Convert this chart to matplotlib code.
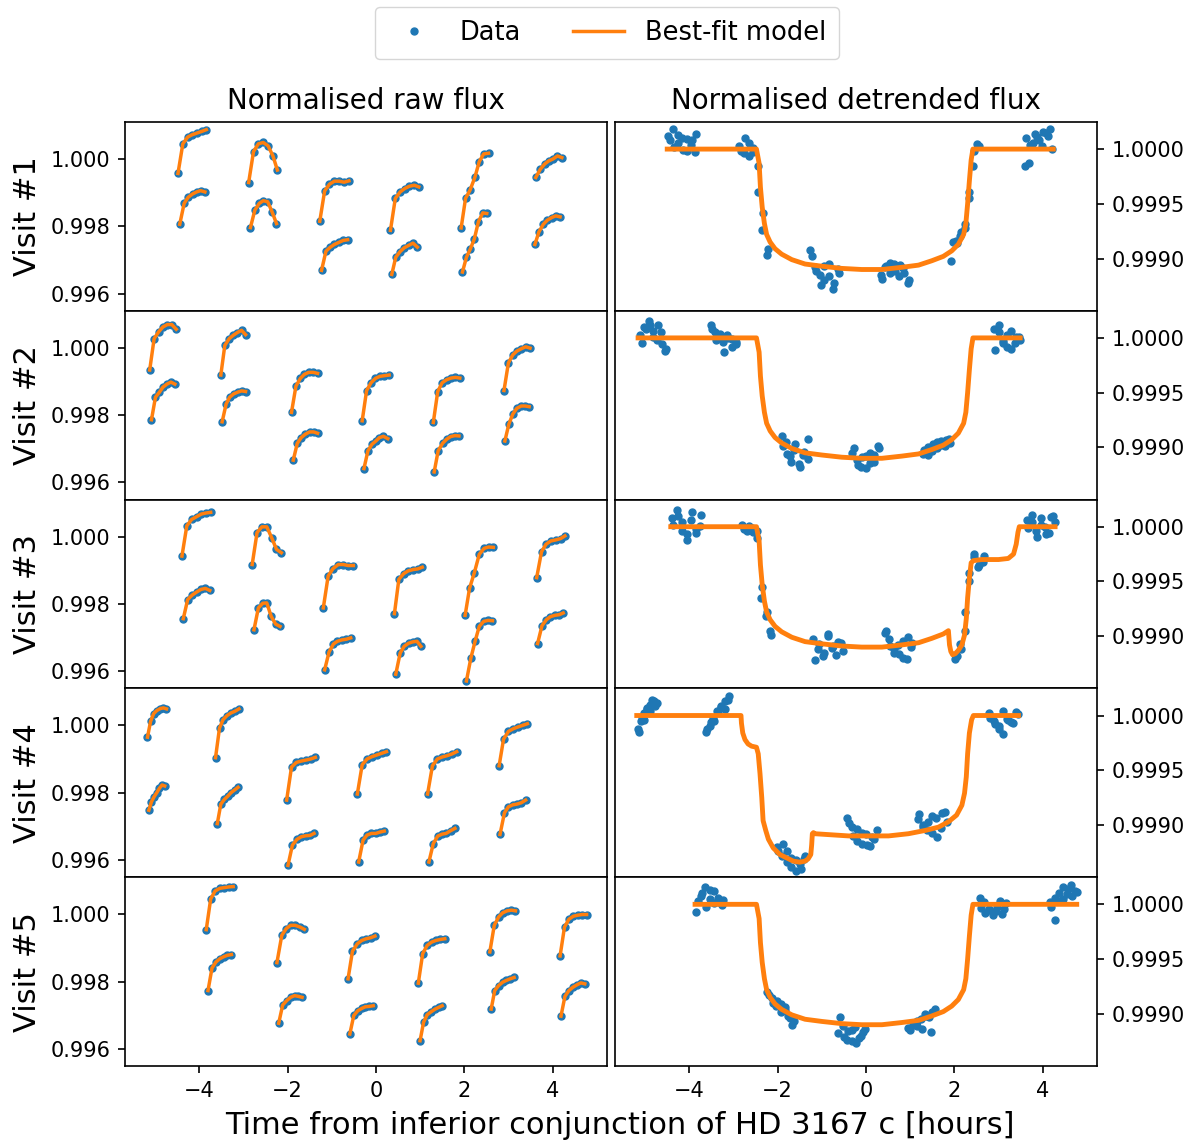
import matplotlib
matplotlib.use("Agg")
import numpy as np
import matplotlib.pyplot as plt
from matplotlib.lines import Line2D
from matplotlib.ticker import FormatStrFormatter

# ---------------- data ----------------
# times in hours from inferior conjunction; each visit has 6 HST orbits,
# each orbit has an upper (forward scan) and lower (reverse scan) branch

# Visit 1
v1_t_up = [[-4.48, -4.37, -4.26, -4.16, -4.05, -3.94, -3.84],
           [-2.88, -2.77, -2.66, -2.55, -2.44, -2.33, -2.23],
           [-1.27, -1.16, -1.05, -0.94, -0.83, -0.72, -0.61],
           [0.33, 0.44, 0.55, 0.65, 0.76, 0.87, 0.97],
           [1.93, 2.03, 2.13, 2.24, 2.34, 2.44, 2.55],
           [3.62, 3.72, 3.82, 3.91, 4.01, 4.11, 4.21]]
v1_t_lo = [[-4.44, -4.34, -4.25, -4.15, -4.06, -3.97, -3.87],
           [-2.84, -2.74, -2.64, -2.55, -2.45, -2.35, -2.25],
           [-1.23, -1.13, -1.03, -0.94, -0.84, -0.74, -0.64],
           [0.36, 0.45, 0.55, 0.64, 0.74, 0.84, 0.94],
           [1.96, 2.05, 2.14, 2.23, 2.32, 2.42, 2.51],
           [3.60, 3.69, 3.79, 3.88, 3.98, 4.07, 4.17]]
v1_raw_up = [[0.99957, 1.00045, 1.00065, 1.00072, 1.00077, 1.00082, 1.00087],
             [0.99930, 1.00022, 1.00045, 1.00049, 1.00039, 1.00009, 0.99967],
             [0.99815, 0.99905, 0.99925, 0.99934, 0.99934, 0.99931, 0.99935],
             [0.99788, 0.99883, 0.99902, 0.99912, 0.99919, 0.99922, 0.99917],
             [0.99795, 0.99883, 0.99907, 0.99945, 0.99992, 1.00015, 1.00017],
             [0.99945, 0.99969, 0.99985, 0.99994, 1.00000, 1.00009, 1.00004]]
v1_raw_lo = [[0.99806, 0.99868, 0.99886, 0.99896, 0.99902, 0.99906, 0.99902],
             [0.99796, 0.99848, 0.99868, 0.99876, 0.99873, 0.99843, 0.99808],
             [0.99669, 0.99726, 0.99738, 0.99746, 0.99752, 0.99758, 0.99760],
             [0.99657, 0.99708, 0.99725, 0.99736, 0.99743, 0.99750, 0.99738],
             [0.99664, 0.99708, 0.99733, 0.99763, 0.99813, 0.99840, 0.99838],
             [0.99746, 0.99783, 0.99806, 0.99818, 0.99826, 0.99831, 0.99828]]
v1_det_up = [[1.00012, 1.00018, 1.00006, 1.00010, 0.99998, 1.00008, 1.00014],
             [1.00003, 0.99996, 1.00006, 1.00001, 0.99985, 0.99942, 0.99909],
             [0.99908, 0.99892, 0.99885, 0.99880, 0.99895, 0.99878, 0.99887],
             [0.99885, 0.99892, 0.99896, 0.99889, 0.99894, 0.99887, 0.99880],
             [0.99898, 0.99916, 0.99921, 0.99932, 0.99961, 0.99998, 1.00003],
             [1.00010, 1.00004, 1.00014, 1.00008, 1.00016, 1.00012, 1.00000]]
v1_det_lo = [[1.00008, 1.00002, 1.00013, 0.99999, 1.00009, 1.00004, 0.99997],
             [0.99998, 1.00010, 0.99994, 0.99997, 0.99961, 0.99926, 0.99903],
             [0.99902, 0.99889, 0.99876, 0.99893, 0.99884, 0.99872, 0.99890],
             [0.99881, 0.99893, 0.99887, 0.99895, 0.99884, 0.99891, 0.99878],
             [0.99915, 0.99914, 0.99924, 0.99928, 0.99955, 0.99985, 1.00005],
             [0.99985, 0.99987, 1.00006, 1.00011, 1.00003, 1.00015, 1.00018]]

# Visit 2
v2_t_up = [[-5.12, -5.02, -4.92, -4.82, -4.72, -4.62, -4.52],
           [-3.51, -3.42, -3.32, -3.23, -3.14, -3.04, -2.95],
           [-1.91, -1.81, -1.71, -1.62, -1.52, -1.42, -1.32],
           [-0.31, -0.21, -0.11, -0.01, 0.09, 0.19, 0.30],
           [1.30, 1.40, 1.50, 1.60, 1.70, 1.80, 1.90],
           [2.90, 3.00, 3.10, 3.19, 3.29, 3.39, 3.49]]
v2_t_lo = [[-5.08, -4.99, -4.90, -4.82, -4.73, -4.64, -4.55],
           [-3.48, -3.39, -3.31, -3.22, -3.13, -3.04, -2.95],
           [-1.87, -1.78, -1.69, -1.60, -1.50, -1.41, -1.32],
           [-0.27, -0.18, -0.09, 0.00, 0.08, 0.17, 0.27],
           [1.32, 1.41, 1.51, 1.60, 1.69, 1.79, 1.88],
           [2.92, 3.01, 3.10, 3.19, 3.29, 3.38, 3.47]]
v2_raw_up = [[0.99934, 1.00027, 1.00047, 1.00062, 1.00069, 1.00069, 1.00055],
             [0.99919, 1.00007, 1.00027, 1.00037, 1.00045, 1.00052, 1.00039],
             [0.99808, 0.99886, 0.99909, 0.99921, 0.99927, 0.99927, 0.99924],
             [0.99783, 0.99873, 0.99896, 0.99909, 0.99915, 0.99917, 0.99919],
             [0.99778, 0.99870, 0.99896, 0.99905, 0.99910, 0.99912, 0.99910],
             [0.99873, 0.99955, 0.99979, 0.99990, 0.99997, 1.00003, 0.99999]]
v2_raw_lo = [[0.99786, 0.99853, 0.99868, 0.99883, 0.99892, 0.99898, 0.99892],
             [0.99780, 0.99833, 0.99853, 0.99863, 0.99868, 0.99872, 0.99870],
             [0.99666, 0.99716, 0.99733, 0.99743, 0.99750, 0.99750, 0.99746],
             [0.99641, 0.99694, 0.99713, 0.99723, 0.99733, 0.99737, 0.99730],
             [0.99631, 0.99694, 0.99716, 0.99728, 0.99736, 0.99739, 0.99738],
             [0.99723, 0.99773, 0.99803, 0.99820, 0.99827, 0.99827, 0.99825]]
v2_det_up = [[1.00003, 1.00010, 1.00015, 1.00006, 1.00012, 0.99994, 0.99990],
             [1.00012, 1.00005, 1.00001, 0.99996, 1.00003, 0.99999, 0.99994],
             [0.99910, 0.99905, 0.99892, 0.99898, 0.99885, 0.99893, 0.99908],
             [0.99895, 0.99888, 0.99882, 0.99892, 0.99886, 0.99893, 0.99899],
             [0.99894, 0.99900, 0.99897, 0.99905, 0.99902, 0.99907, 0.99904],
             [1.00008, 1.00012, 0.99995, 1.00003, 0.99990, 1.00001, 0.99998]]
v2_det_lo = [[0.99995, 1.00008, 1.00012, 1.00001, 0.99998, 1.00005, 0.99988],
             [1.00008, 0.99998, 1.00004, 0.99987, 1.00000, 0.99992, 0.99996],
             [0.99901, 0.99894, 0.99887, 0.99903, 0.99882, 0.99896, 0.99889],
             [0.99899, 0.99884, 0.99891, 0.99881, 0.99895, 0.99887, 0.99901],
             [0.99898, 0.99893, 0.99903, 0.99899, 0.99906, 0.99901, 0.99908],
             [0.99989, 1.00005, 0.99997, 0.99992, 1.00006, 0.99995, 1.00001]]

# Visit 3
v3_t_up = [[-4.39, -4.28, -4.17, -4.06, -3.95, -3.85, -3.74],
           [-2.80, -2.69, -2.58, -2.47, -2.36, -2.25, -2.14],
           [-1.19, -1.08, -0.97, -0.85, -0.74, -0.63, -0.51],
           [0.42, 0.52, 0.63, 0.73, 0.84, 0.95, 1.05],
           [2.02, 2.12, 2.23, 2.34, 2.45, 2.55, 2.66],
           [3.64, 3.75, 3.85, 3.96, 4.07, 4.18, 4.28]]
v3_t_lo = [[-4.36, -4.26, -4.16, -4.06, -3.96, -3.86, -3.76],
           [-2.76, -2.66, -2.56, -2.47, -2.37, -2.27, -2.17],
           [-1.16, -1.06, -0.96, -0.87, -0.77, -0.67, -0.57],
           [0.45, 0.55, 0.64, 0.74, 0.83, 0.93, 1.02],
           [2.05, 2.15, 2.25, 2.34, 2.44, 2.54, 2.64],
           [3.66, 3.76, 3.86, 3.95, 4.05, 4.15, 4.24]]
v3_raw_up = [[0.99942, 1.00032, 1.00051, 1.00059, 1.00067, 1.00070, 1.00072],
             [0.99917, 1.00012, 1.00029, 1.00029, 0.99997, 0.99962, 0.99952],
             [0.99788, 0.99883, 0.99905, 0.99917, 0.99917, 0.99914, 0.99914],
             [0.99771, 0.99873, 0.99890, 0.99898, 0.99902, 0.99904, 0.99909],
             [0.99766, 0.99846, 0.99893, 0.99947, 0.99965, 0.99969, 0.99968],
             [0.99878, 0.99955, 0.99977, 0.99987, 0.99990, 0.99994, 1.00002]]
v3_raw_lo = [[0.99756, 0.99813, 0.99826, 0.99835, 0.99843, 0.99846, 0.99840],
             [0.99723, 0.99788, 0.99802, 0.99803, 0.99763, 0.99740, 0.99733],
             [0.99604, 0.99657, 0.99681, 0.99689, 0.99693, 0.99695, 0.99699],
             [0.99591, 0.99654, 0.99674, 0.99683, 0.99687, 0.99689, 0.99674],
             [0.99571, 0.99639, 0.99691, 0.99733, 0.99748, 0.99751, 0.99750],
             [0.99682, 0.99735, 0.99753, 0.99762, 0.99766, 0.99768, 0.99773]]
v3_det_up = [[1.00008, 1.00015, 1.00004, 0.99993, 1.00013, 0.99998, 1.00011],
             [1.00002, 0.99996, 0.99999, 0.99996, 0.99945, 0.99922, 0.99901],
             [0.99897, 0.99888, 0.99882, 0.99900, 0.99891, 0.99895, 0.99886],
             [0.99903, 0.99897, 0.99885, 0.99892, 0.99880, 0.99899, 0.99894],
             [0.99879, 0.99893, 0.99905, 0.99958, 0.99972, 0.99965, 0.99973],
             [1.00006, 1.00011, 0.99996, 1.00002, 0.99993, 1.00009, 1.00004]]
v3_det_lo = [[1.00002, 1.00010, 0.99996, 0.99988, 1.00006, 0.99994, 1.00001],
             [0.99998, 1.00001, 0.99995, 0.99990, 0.99935, 0.99918, 0.99905],
             [0.99878, 0.99893, 0.99885, 0.99902, 0.99889, 0.99883, 0.99894],
             [0.99905, 0.99891, 0.99888, 0.99884, 0.99896, 0.99879, 0.99890],
             [0.99882, 0.99888, 0.99922, 0.99950, 0.99975, 0.99963, 0.99968],
             [0.99999, 1.00004, 0.99991, 1.00008, 1.00000, 0.99994, 1.00010]]

# Visit 4
v4_t_up = [[-5.17, -5.10, -5.03, -4.96, -4.88, -4.81, -4.74],
           [-3.63, -3.54, -3.46, -3.37, -3.28, -3.19, -3.10],
           [-2.02, -1.91, -1.80, -1.69, -1.58, -1.48, -1.37],
           [-0.42, -0.31, -0.20, -0.09, 0.02, 0.13, 0.24],
           [1.17, 1.28, 1.39, 1.50, 1.61, 1.72, 1.83],
           [2.79, 2.89, 3.00, 3.11, 3.21, 3.32, 3.43]]
v4_t_lo = [[-5.14, -5.08, -5.02, -4.96, -4.90, -4.84, -4.78],
           [-3.59, -3.51, -3.43, -3.35, -3.28, -3.20, -3.12],
           [-1.99, -1.89, -1.79, -1.69, -1.59, -1.49, -1.40],
           [-0.39, -0.29, -0.20, -0.10, 0.00, 0.09, 0.19],
           [1.20, 1.30, 1.40, 1.50, 1.59, 1.69, 1.79],
           [2.81, 2.91, 3.00, 3.10, 3.19, 3.29, 3.39]]
v4_raw_up = [[0.99965, 1.00012, 1.00035, 1.00044, 1.00050, 1.00052, 1.00049],
             [0.99904, 0.99992, 1.00017, 1.00029, 1.00037, 1.00042, 1.00049],
             [0.99778, 0.99876, 0.99890, 0.99894, 0.99897, 0.99900, 0.99905],
             [0.99796, 0.99883, 0.99900, 0.99907, 0.99912, 0.99917, 0.99922],
             [0.99796, 0.99880, 0.99900, 0.99906, 0.99910, 0.99915, 0.99922],
             [0.99880, 0.99959, 0.99982, 0.99990, 0.99995, 1.00000, 1.00005]]
v4_raw_lo = [[0.99748, 0.99773, 0.99788, 0.99800, 0.99813, 0.99823, 0.99820],
             [0.99708, 0.99766, 0.99780, 0.99790, 0.99800, 0.99808, 0.99816],
             [0.99584, 0.99644, 0.99661, 0.99669, 0.99672, 0.99673, 0.99679],
             [0.99594, 0.99659, 0.99674, 0.99679, 0.99679, 0.99683, 0.99686],
             [0.99594, 0.99649, 0.99671, 0.99677, 0.99679, 0.99687, 0.99694],
             [0.99676, 0.99740, 0.99758, 0.99764, 0.99766, 0.99770, 0.99778]]
v4_det_up = [[0.99988, 0.99995, 1.00002, 1.00006, 1.00010, 1.00013, 1.00011],
             [0.99985, 0.99990, 0.99998, 1.00004, 1.00008, 1.00013, 1.00018],
             [0.99880, 0.99872, 0.99876, 0.99862, 0.99868, 0.99860, 0.99872],
             [0.99906, 0.99898, 0.99885, 0.99893, 0.99882, 0.99889, 0.99895],
             [0.99905, 0.99900, 0.99895, 0.99908, 0.99889, 0.99911, 0.99903],
             [1.00002, 0.99995, 0.99990, 1.00004, 0.99996, 0.99993, 1.00001]]
v4_det_lo = [[0.99985, 0.99999, 0.99996, 1.00007, 1.00004, 1.00014, 1.00009],
             [0.99988, 0.99994, 0.99995, 1.00003, 1.00009, 1.00006, 1.00014],
             [0.99876, 0.99883, 0.99866, 0.99870, 0.99858, 0.99864, 0.99869],
             [0.99902, 0.99890, 0.99896, 0.99883, 0.99892, 0.99881, 0.99887],
             [0.99910, 0.99898, 0.99903, 0.99893, 0.99906, 0.99897, 0.99912],
             [0.99998, 0.99992, 0.99988, 0.99983, 0.99997, 0.99994, 1.00003]]

# Visit 5
v5_t_up = [[-3.84, -3.74, -3.64, -3.53, -3.43, -3.33, -3.23],
           [-2.24, -2.13, -2.03, -1.93, -1.83, -1.72, -1.62],
           [-0.63, -0.53, -0.42, -0.32, -0.22, -0.12, -0.02],
           [0.96, 1.06, 1.16, 1.26, 1.36, 1.46, 1.56],
           [2.58, 2.68, 2.78, 2.87, 2.97, 3.07, 3.16],
           [4.17, 4.27, 4.37, 4.47, 4.57, 4.67, 4.77]]
v5_t_lo = [[-3.80, -3.71, -3.62, -3.53, -3.44, -3.36, -3.27],
           [-2.20, -2.11, -2.02, -1.93, -1.84, -1.76, -1.67],
           [-0.59, -0.50, -0.41, -0.32, -0.24, -0.15, -0.06],
           [1.00, 1.08, 1.16, 1.25, 1.34, 1.42, 1.50],
           [2.61, 2.69, 2.78, 2.87, 2.95, 3.04, 3.13],
           [4.19, 4.28, 4.37, 4.46, 4.55, 4.64, 4.73]]
v5_raw_up = [[0.99954, 1.00045, 1.00069, 1.00077, 1.00079, 1.00081, 1.00082],
             [0.99856, 0.99937, 0.99957, 0.99967, 0.99967, 0.99962, 0.99955],
             [0.99808, 0.99890, 0.99912, 0.99922, 0.99927, 0.99930, 0.99935],
             [0.99795, 0.99883, 0.99907, 0.99917, 0.99922, 0.99925, 0.99927],
             [0.99888, 0.99967, 0.99992, 1.00004, 1.00010, 1.00012, 1.00010],
             [0.99876, 0.99962, 0.99985, 0.99994, 0.99997, 0.99999, 0.99999]]
v5_raw_lo = [[0.99773, 0.99840, 0.99858, 0.99868, 0.99874, 0.99878, 0.99880],
             [0.99676, 0.99730, 0.99743, 0.99753, 0.99758, 0.99756, 0.99753],
             [0.99644, 0.99699, 0.99713, 0.99720, 0.99725, 0.99726, 0.99728],
             [0.99624, 0.99679, 0.99701, 0.99710, 0.99718, 0.99723, 0.99728],
             [0.99718, 0.99773, 0.99788, 0.99798, 0.99803, 0.99808, 0.99812],
             [0.99697, 0.99756, 0.99773, 0.99783, 0.99790, 0.99796, 0.99793]]
v5_det_up = [[0.99993, 1.00008, 1.00016, 1.00005, 1.00012, 1.00002, 1.00004],
             [0.99920, 0.99914, 0.99907, 0.99909, 0.99903, 0.99896, 0.99893],
             [0.99882, 0.99889, 0.99876, 0.99885, 0.99873, 0.99880, 0.99886],
             [0.99887, 0.99890, 0.99893, 0.99886, 0.99898, 0.99883, 0.99904],
             [1.00006, 1.00002, 0.99995, 0.99993, 0.99998, 0.99991, 1.00001],
             [1.00002, 0.99986, 1.00010, 1.00005, 1.00014, 1.00008, 1.00011]]
v5_det_lo = [[1.00003, 1.00010, 0.99998, 1.00013, 1.00001, 1.00006, 0.99999],
             [0.99917, 0.99910, 0.99912, 0.99902, 0.99906, 0.99898, 0.99890],
             [0.99897, 0.99879, 0.99884, 0.99875, 0.99888, 0.99878, 0.99883],
             [0.99885, 0.99892, 0.99889, 0.99895, 0.99900, 0.99897, 0.99902],
             [0.99997, 0.99992, 0.99996, 0.99990, 0.99994, 1.00003, 0.99996],
             [0.99998, 1.00006, 1.00003, 1.00016, 1.00009, 1.00018, 1.00012]]

# best-fit transit model of HD 3167 c (visits 1, 2, 5)
c_model_t = [-2.48, -2.42, -2.39, -2.35, -2.30, -2.25, -2.17, -2.06, -1.91,
             -1.68, -1.38, -1.00, -0.55, -0.10, 0.36, 0.81, 1.19, 1.49, 1.75,
             1.94, 2.09, 2.21, 2.26, 2.30, 2.34, 2.38, 2.42]
c_model_f = [1.00000, 0.99987, 0.99965, 0.99947, 0.99932, 0.99922, 0.99915,
             0.99909, 0.99904, 0.99899, 0.99895, 0.99893, 0.99891, 0.99890,
             0.99890, 0.99892, 0.99894, 0.99898, 0.99902, 0.99907, 0.99913,
             0.99922, 0.99932, 0.99950, 0.99971, 0.99990, 1.00000]
model_start = [-4.50, -5.16, -4.42, -5.19, -3.87]
model_end = [4.24, 3.49, 4.28, 3.45, 4.77]

# visit 3: planet b transit overlaps the egress of c
v3_model_t = [-4.42, -2.48, -2.42, -2.39, -2.35, -2.30, -2.25, -2.17, -2.06,
              -1.91, -1.68, -1.38, -1.00, -0.55, -0.10, 0.36, 0.81, 1.19,
              1.49, 1.75, 1.865, 1.89, 1.92, 1.96, 2.02, 2.09, 2.17, 2.23,
              2.27, 2.30, 2.34, 2.38, 2.43, 2.62, 3.00, 3.22, 3.34, 3.40,
              3.44, 3.47, 4.28]
v3_model_f = [1.00000, 1.00000, 0.99987, 0.99965, 0.99947, 0.99932, 0.99922,
              0.99915, 0.99909, 0.99904, 0.99899, 0.99895, 0.99893, 0.99891,
              0.99890, 0.99890, 0.99892, 0.99894, 0.99898, 0.99902, 0.99905,
              0.99892, 0.99886, 0.99883, 0.99884, 0.99887, 0.99892, 0.99901,
              0.99916, 0.99935, 0.99953, 0.99967, 0.99969, 0.99970, 0.99970,
              0.99971, 0.99975, 0.99984, 0.99995, 1.00000, 1.00000]

# visit 4: planet b transit overlaps the ingress of c
v4_model_t = [-5.19, -2.83, -2.82, -2.79, -2.74, -2.67, -2.59, -2.48, -2.44,
              -2.40, -2.36, -2.33, -2.27, -2.21, -2.10, -1.95, -1.80, -1.65,
              -1.50, -1.38, -1.31, -1.25, -1.23, -1.215, -1.19, -1.16, -0.78,
              -0.40, 0.05, 0.51, 0.96, 1.34, 1.64, 1.87, 2.05, 2.17, 2.23,
              2.27, 2.30, 2.34, 2.39, 2.43, 3.45]
v4_model_f = [1.00000, 1.00000, 0.99993, 0.99984, 0.99978, 0.99974, 0.99972,
              0.99971, 0.99965, 0.99947, 0.99925, 0.99904, 0.99895, 0.99887,
              0.99879, 0.99873, 0.99870, 0.99867, 0.99866, 0.99867, 0.99869,
              0.99873, 0.99882, 0.99892, 0.99893, 0.99892, 0.99891, 0.99890,
              0.99890, 0.99890, 0.99892, 0.99895, 0.99898, 0.99903, 0.99909,
              0.99918, 0.99929, 0.99944, 0.99965, 0.99984, 0.99996, 1.00000,
              1.00000]

visit_names = ["Visit #1", "Visit #2", "Visit #3", "Visit #4", "Visit #5"]

# ---------------- assemble ----------------
t_up = [v1_t_up, v2_t_up, v3_t_up, v4_t_up, v5_t_up]
t_lo = [v1_t_lo, v2_t_lo, v3_t_lo, v4_t_lo, v5_t_lo]
raw_up = [v1_raw_up, v2_raw_up, v3_raw_up, v4_raw_up, v5_raw_up]
raw_lo = [v1_raw_lo, v2_raw_lo, v3_raw_lo, v4_raw_lo, v5_raw_lo]
det_up = [v1_det_up, v2_det_up, v3_det_up, v4_det_up, v5_det_up]
det_lo = [v1_det_lo, v2_det_lo, v3_det_lo, v4_det_lo, v5_det_lo]

models = []
for i in range(5):
    if i == 2:
        models.append((v3_model_t, v3_model_f))
    elif i == 3:
        models.append((v4_model_t, v4_model_f))
    else:
        models.append(([model_start[i]] + c_model_t + [model_end[i]],
                       [1.0] + c_model_f + [1.0]))

# ---------------- plot ----------------
plt.rcParams["axes.linewidth"] = 1.2

fig, axes = plt.subplots(5, 2, figsize=(11.97, 11.44), dpi=100, sharex=True)
fig.subplots_adjust(left=0.1044, right=0.9165, top=0.8934, bottom=0.0682,
                    hspace=0, wspace=0.017)

ms = 5
for i in range(5):
    axl, axr = axes[i]

    # raw flux: dots then model line through each scan branch
    for tu, tl, fu, fl in zip(t_up[i], t_lo[i], raw_up[i], raw_lo[i]):
        axl.plot(tu, fu, "o", color="C0", ms=ms)
        axl.plot(tl, fl, "o", color="C0", ms=ms)
    for tu, tl, fu, fl in zip(t_up[i], t_lo[i], raw_up[i], raw_lo[i]):
        axl.plot(tu, fu, "-", color="C1", lw=2.5)
        axl.plot(tl, fl, "-", color="C1", lw=2.5)

    # detrended flux
    td = np.concatenate([np.ravel(t_up[i]), np.ravel(t_lo[i])])
    fd = np.concatenate([np.ravel(det_up[i]), np.ravel(det_lo[i])])
    axr.plot(td, fd, "o", color="C0", ms=ms)
    mt, mf = models[i]
    axr.plot(mt, mf, "-", color="C1", lw=3.5)

    axl.set_ylim(0.99549, 1.0011)
    axl.set_yticks([0.996, 0.998, 1.000])
    axl.yaxis.set_major_formatter(FormatStrFormatter("%.3f"))
    axl.set_ylabel(visit_names[i], fontsize=22, labelpad=6)

    axr.set_ylim(0.998523, 1.000248)
    axr.yaxis.tick_right()
    axr.set_yticks([0.9990, 0.9995, 1.0000])
    axr.yaxis.set_major_formatter(FormatStrFormatter("%.4f"))

    for ax in (axl, axr):
        ax.tick_params(labelsize=15, length=5.25, width=1.2, pad=5.25)
        ax.set_xlim(-5.68, 5.23)

axes[0, 0].set_title("Normalised raw flux", fontsize=20, pad=9)
axes[0, 1].set_title("Normalised detrended flux", fontsize=20, pad=9)

fig.text(0.518, 0.0166, "Time from inferior conjunction of HD 3167 c [hours]",
         ha="center", va="center", fontsize=22)

handles = [Line2D([], [], marker="o", ls="none", color="C0", ms=ms, label="Data"),
           Line2D([], [], color="C1", lw=2.5, label="Best-fit model")]
fig.legend(handles=handles, loc="upper center", bbox_to_anchor=(0.507, 1.005),
           ncol=2, fontsize=18.5, borderpad=0.5)

fig.savefig("out.png", dpi=100)
